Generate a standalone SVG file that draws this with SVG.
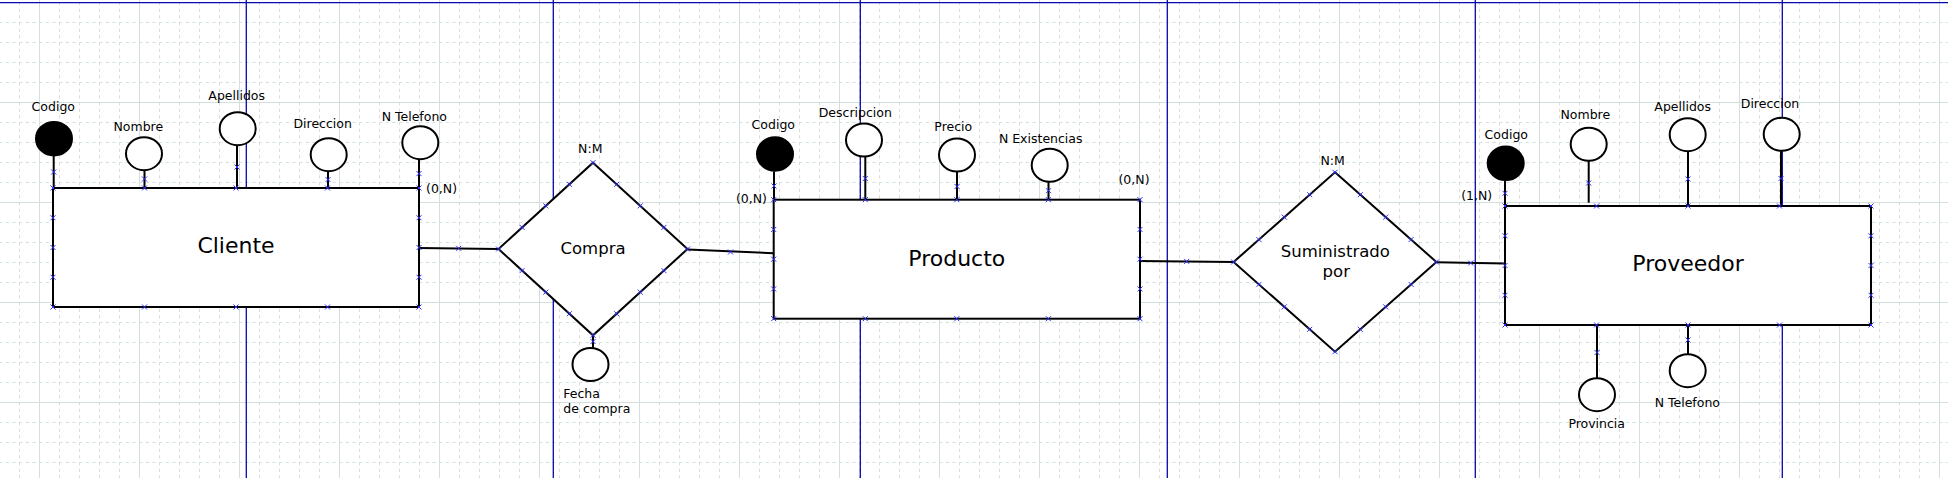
<svg xmlns="http://www.w3.org/2000/svg" xmlns:xlink="http://www.w3.org/1999/xlink" width="1948" height="478" viewBox="0 0 1948 478">
<style>
.ent{fill:#fff;stroke:#000;stroke-width:2}
.rel{fill:#fff;stroke:#000;stroke-width:2;stroke-linejoin:miter}
.att{fill:#fff;stroke:#000;stroke-width:2}
.key{fill:#000;stroke:#000;stroke-width:2}
.ln{stroke:#000;stroke-width:2;fill:none}
.cp{stroke:#3030ff;stroke-width:1;fill:none}
.pg{stroke:#0808a8;stroke-width:1.3}
text{font-family:"DejaVu Sans","Liberation Sans",sans-serif;fill:#000}
.lbl{font-size:12.5px}
.c{text-anchor:middle}
.e{text-anchor:end}
.big{font-size:22px;text-anchor:middle}
.mid{font-size:16.5px;text-anchor:middle}
</style>
<defs>
<pattern id="grid" patternUnits="userSpaceOnUse" x="39" y="2" width="100" height="100">
<g stroke="#dcdcdc" stroke-width="1" stroke-dasharray="3.333 3.333">
<line x1="20.5" y1="0" x2="20.5" y2="100"/><line x1="40.5" y1="0" x2="40.5" y2="100"/><line x1="60.5" y1="0" x2="60.5" y2="100"/><line x1="80.5" y1="0" x2="80.5" y2="100"/>
</g>
<g stroke="#d2e2de" stroke-width="1" stroke-dasharray="3.333 3.333">
<line x1="0" y1="20.5" x2="100" y2="20.5"/><line x1="0" y1="40.5" x2="100" y2="40.5"/><line x1="0" y1="60.5" x2="100" y2="60.5"/><line x1="0" y1="80.5" x2="100" y2="80.5"/>
</g>
<g stroke="#d3dfdc" stroke-width="1">
<line x1="0.5" y1="0" x2="0.5" y2="100"/><line x1="0" y1="0.5" x2="100" y2="0.5"/>
</g>
</pattern>
<path id="cx" class="cp" d="M-2.5,-2.5L2.5,2.5M-2.5,2.5L2.5,-2.5"/>
</defs>
<rect x="0" y="0" width="1948" height="478" fill="#fff"/>
<rect x="0" y="0" width="1948" height="478" fill="url(#grid)"/>
<g id="page-breaks">
<line class="pg" x1="0" y1="2.7" x2="1948" y2="2.7"/>
<line class="pg" x1="246.3" y1="0" x2="246.3" y2="478"/>
<line class="pg" x1="553.3" y1="0" x2="553.3" y2="478"/>
<line class="pg" x1="860.3" y1="0" x2="860.3" y2="478"/>
<line class="pg" x1="1167.3" y1="0" x2="1167.3" y2="478"/>
<line class="pg" x1="1475.3" y1="0" x2="1475.3" y2="478"/>
<line class="pg" x1="1782.3" y1="0" x2="1782.3" y2="478"/>
</g>
<g id="connectors">
<line class="ln" x1="53.7" y1="156" x2="53.7" y2="188"/>
<line class="ln" x1="144.5" y1="170" x2="144.5" y2="188"/>
<line class="ln" x1="237" y1="145" x2="237" y2="188"/>
<line class="ln" x1="328" y1="171" x2="328" y2="188"/>
<line class="ln" x1="419" y1="159" x2="419" y2="188"/>
<line class="ln" x1="419" y1="248" x2="498.5" y2="249"/>
<line class="ln" x1="687.5" y1="249.5" x2="773.7" y2="253.3"/>
<line class="ln" x1="593" y1="335.3" x2="593" y2="348"/>
<line class="ln" x1="1140" y1="261" x2="1233.6" y2="262"/>
<line class="ln" x1="1436.4" y1="262.3" x2="1505" y2="263.5"/>
<line class="ln" x1="774" y1="171.5" x2="774" y2="199.7"/>
<line class="ln" x1="865.3" y1="156.5" x2="865.3" y2="199.7"/>
<line class="ln" x1="957" y1="171.5" x2="957" y2="199.7"/>
<line class="ln" x1="1048.5" y1="181.5" x2="1048.5" y2="199.7"/>
<line class="ln" x1="1505" y1="180.5" x2="1505" y2="206"/>
<line class="ln" x1="1588.7" y1="160.5" x2="1588.7" y2="202.7"/>
<line class="ln" x1="1688" y1="151" x2="1688" y2="206"/>
<line class="ln" x1="1781" y1="150.5" x2="1781" y2="206"/>
<line class="ln" x1="1597" y1="325" x2="1597" y2="378"/>
<line class="ln" x1="1688" y1="325" x2="1688" y2="354"/>
<use href="#cx" x="53.7" y="172"/><use href="#cx" x="144.5" y="179"/><use href="#cx" x="237" y="167"/><use href="#cx" x="328" y="179.6"/><use href="#cx" x="419" y="173.6"/>
<use href="#cx" x="458.7" y="248.3"/><use href="#cx" x="730.5" y="252"/><use href="#cx" x="593" y="341.5"/>
<use href="#cx" x="1186.7" y="261.4"/><use href="#cx" x="1470.7" y="263"/>
<use href="#cx" x="774" y="186"/><use href="#cx" x="865.3" y="178.5"/><use href="#cx" x="957" y="186.5"/><use href="#cx" x="1048.5" y="190.7"/>
<use href="#cx" x="1505" y="193.3"/><use href="#cx" x="1588.7" y="183"/><use href="#cx" x="1688" y="179"/><use href="#cx" x="1781" y="178.5"/><use href="#cx" x="1597" y="352.5"/><use href="#cx" x="1688" y="340"/>
</g>
<g id="cliente">
<rect class="ent" x="53" y="188" width="366" height="119"/>
<text class="big" x="236" y="253.3">Cliente</text>
<use href="#cx" x="53" y="188"/><use href="#cx" x="144.5" y="188"/><use href="#cx" x="236" y="188"/><use href="#cx" x="327.5" y="188"/><use href="#cx" x="419" y="188"/>
<use href="#cx" x="53" y="307"/><use href="#cx" x="144.5" y="307"/><use href="#cx" x="236" y="307"/><use href="#cx" x="327.5" y="307"/><use href="#cx" x="419" y="307"/>
<use href="#cx" x="53" y="217.75"/><use href="#cx" x="53" y="247.5"/><use href="#cx" x="53" y="277.25"/>
<use href="#cx" x="419" y="217.75"/><use href="#cx" x="419" y="247.5"/><use href="#cx" x="419" y="277.25"/>
</g>
<g id="cliente-codigo"><ellipse class="key" cx="54" cy="138.7" rx="18" ry="16.8"/><text class="lbl c" x="53.3" y="111">Codigo</text></g>
<g id="cliente-nombre"><ellipse class="att" cx="144" cy="153.7" rx="18" ry="16.5"/><text class="lbl c" x="138.3" y="131">Nombre</text></g>
<g id="cliente-apellidos"><ellipse class="att" cx="237.7" cy="128.7" rx="18" ry="16.5"/><text class="lbl c" x="236.7" y="100">Apellidos</text></g>
<g id="cliente-direccion"><ellipse class="att" cx="328.7" cy="154.7" rx="18" ry="16.5"/><text class="lbl c" x="322.7" y="128.3">Direccion</text></g>
<g id="cliente-telefono"><ellipse class="att" cx="420.3" cy="142.7" rx="18" ry="16.5"/><text class="lbl c" x="414.3" y="121">N Telefono</text></g>
<g id="card-cliente"><text class="lbl" x="426" y="193.3">(0,N)</text></g>
<g id="compra">
<polygon class="rel" points="593,162.7 687.5,249 593,335.3 498.5,249"/>
<text class="mid" x="593" y="254">Compra</text>
<text class="lbl c" x="590.3" y="153.3">N:M</text>
<use href="#cx" x="593" y="162.7"/><use href="#cx" x="687.5" y="249"/><use href="#cx" x="593" y="335.3"/><use href="#cx" x="498.5" y="249"/>
<use href="#cx" x="616.6" y="184.3"/><use href="#cx" x="640.25" y="205.85"/><use href="#cx" x="663.9" y="227.4"/>
<use href="#cx" x="663.9" y="270.6"/><use href="#cx" x="640.25" y="292.15"/><use href="#cx" x="616.6" y="313.7"/>
<use href="#cx" x="569.4" y="313.7"/><use href="#cx" x="545.75" y="292.15"/><use href="#cx" x="522.1" y="270.6"/>
<use href="#cx" x="522.1" y="227.4"/><use href="#cx" x="545.75" y="205.85"/><use href="#cx" x="569.4" y="184.3"/>
</g>
<g id="compra-fecha"><ellipse class="att" cx="590.5" cy="364.5" rx="18" ry="16.5"/><text class="lbl" x="563.3" y="397.7">Fecha</text><text class="lbl" x="563.3" y="413.3">de compra</text></g>
<g id="producto">
<rect class="ent" x="773.7" y="199.7" width="366.3" height="119"/>
<text class="big" x="956.8" y="265.5">Producto</text>
<use href="#cx" x="773.7" y="199.7"/><use href="#cx" x="865.3" y="199.7"/><use href="#cx" x="956.8" y="199.7"/><use href="#cx" x="1048.4" y="199.7"/><use href="#cx" x="1140" y="199.7"/>
<use href="#cx" x="773.7" y="318.7"/><use href="#cx" x="865.3" y="318.7"/><use href="#cx" x="956.8" y="318.7"/><use href="#cx" x="1048.4" y="318.7"/><use href="#cx" x="1140" y="318.7"/>
<use href="#cx" x="773.7" y="229.45"/><use href="#cx" x="773.7" y="259.2"/><use href="#cx" x="773.7" y="288.95"/>
<use href="#cx" x="1140" y="229.45"/><use href="#cx" x="1140" y="259.2"/><use href="#cx" x="1140" y="288.95"/>
</g>
<g id="producto-codigo"><ellipse class="key" cx="775" cy="154" rx="18" ry="16.8"/><text class="lbl c" x="773.3" y="128.7">Codigo</text></g>
<g id="producto-descripcion"><ellipse class="att" cx="864" cy="140" rx="18" ry="16.5"/><text class="lbl c" x="855.3" y="116.7">Descripcion</text></g>
<g id="producto-precio"><ellipse class="att" cx="957" cy="155" rx="18" ry="16.5"/><text class="lbl c" x="953.3" y="130.7">Precio</text></g>
<g id="producto-existencias"><ellipse class="att" cx="1049.7" cy="165.3" rx="18" ry="16.5"/><text class="lbl c" x="1040.7" y="143.3">N Existencias</text></g>
<g id="card-producto-compra"><text class="lbl e" x="767" y="203.3">(0,N)</text></g>
<g id="card-producto-sum"><text class="lbl c" x="1134" y="184.3">(0,N)</text></g>
<g id="suministrado">
<polygon class="rel" points="1335,172.3 1436.4,262 1335,351.7 1233.6,262"/>
<text class="mid" x="1335.3" y="256.7">Suministrado</text>
<text class="mid" x="1336.3" y="277.3">por</text>
<text class="lbl c" x="1332.7" y="165">N:M</text>
<use href="#cx" x="1335" y="172.3"/><use href="#cx" x="1436.4" y="262"/><use href="#cx" x="1335" y="351.7"/><use href="#cx" x="1233.6" y="262"/>
<use href="#cx" x="1360.35" y="194.7"/><use href="#cx" x="1385.7" y="217.15"/><use href="#cx" x="1411.05" y="239.6"/>
<use href="#cx" x="1411.05" y="284.4"/><use href="#cx" x="1385.7" y="306.85"/><use href="#cx" x="1360.35" y="329.3"/>
<use href="#cx" x="1309.65" y="329.3"/><use href="#cx" x="1284.3" y="306.85"/><use href="#cx" x="1258.95" y="284.4"/>
<use href="#cx" x="1258.95" y="239.6"/><use href="#cx" x="1284.3" y="217.15"/><use href="#cx" x="1309.65" y="194.7"/>
</g>
<g id="proveedor">
<rect class="ent" x="1505" y="206" width="366" height="119"/>
<text class="big" x="1688" y="271">Proveedor</text>
<use href="#cx" x="1505" y="206"/><use href="#cx" x="1596.5" y="206"/><use href="#cx" x="1688" y="206"/><use href="#cx" x="1779.5" y="206"/><use href="#cx" x="1871" y="206"/>
<use href="#cx" x="1505" y="325"/><use href="#cx" x="1596.5" y="325"/><use href="#cx" x="1688" y="325"/><use href="#cx" x="1779.5" y="325"/><use href="#cx" x="1871" y="325"/>
<use href="#cx" x="1505" y="235.75"/><use href="#cx" x="1505" y="265.5"/><use href="#cx" x="1505" y="295.25"/>
<use href="#cx" x="1871" y="235.75"/><use href="#cx" x="1871" y="265.5"/><use href="#cx" x="1871" y="295.25"/>
</g>
<g id="proveedor-codigo"><ellipse class="key" cx="1505.7" cy="163.3" rx="18" ry="16.8"/><text class="lbl c" x="1506.3" y="139.3">Codigo</text></g>
<g id="proveedor-nombre"><ellipse class="att" cx="1588.7" cy="144.3" rx="18" ry="16.5"/><text class="lbl c" x="1585.3" y="119.3">Nombre</text></g>
<g id="proveedor-apellidos"><ellipse class="att" cx="1687.7" cy="134.7" rx="18" ry="16.5"/><text class="lbl c" x="1682.7" y="110.7">Apellidos</text></g>
<g id="proveedor-direccion"><ellipse class="att" cx="1781.7" cy="134.3" rx="18" ry="16.5"/><text class="lbl c" x="1770" y="107.7">Direccion</text></g>
<g id="proveedor-provincia"><ellipse class="att" cx="1597" cy="394.7" rx="18" ry="16.5"/><text class="lbl c" x="1596.7" y="428.3">Provincia</text></g>
<g id="proveedor-telefono"><ellipse class="att" cx="1687.7" cy="370.7" rx="18" ry="16.5"/><text class="lbl c" x="1687.3" y="406.7">N Telefono</text></g>
<g id="card-proveedor"><text class="lbl c" x="1476.7" y="200">(1,N)</text></g>
</svg>
